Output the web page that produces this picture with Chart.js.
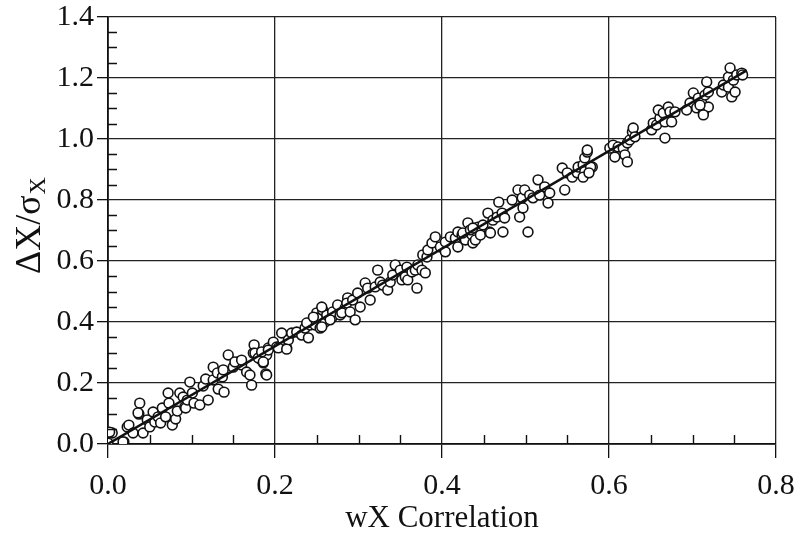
<!DOCTYPE html>
<html>
<head>
<meta charset="utf-8">
<script src="https://cdn.jsdelivr.net/npm/chart.js@4"></script>
<style>
  html, body { margin: 0; padding: 0; background: #fff; }
  #wrap { width: 794px; height: 538px; }
</style>
</head>
<body>
<div id="wrap"><canvas id="chart" width="794" height="538"></canvas></div>
<script>
// wX correlation (x) vs normalised shift dX/sigmaX (y)
const corrX = [
  0.000, 0.005, 0.019, 0.023, 0.025, 0.030, 0.038, 0.037, 0.042, 0.047,
  0.050, 0.054, 0.056, 0.060, 0.063, 0.065, 0.069, 0.072, 0.073, 0.077,
  0.081, 0.083, 0.086, 0.090, 0.092, 0.093, 0.095, 0.098, 0.101, 0.103,
  0.110, 0.114, 0.117, 0.120, 0.126, 0.126, 0.131, 0.132, 0.137, 0.139,
  0.144, 0.002, 0.018, 0.036,
  0.156, 0.150, 0.160, 0.166, 0.170, 0.172, 0.175, 0.174, 0.180, 0.184,
  0.186, 0.190, 0.189, 0.192, 0.198, 0.202, 0.208, 0.214, 0.216, 0.220,
  0.138, 0.152, 0.160, 0.176, 0.180, 0.184, 0.190, 0.186, 0.192, 0.204,
  0.214, 0.226, 0.232, 0.236, 0.240, 0.242, 0.248, 0.250, 0.251, 0.254,
  0.257, 0.260, 0.262, 0.268, 0.269, 0.275, 0.278, 0.284, 0.287,
  0.238, 0.246, 0.256, 0.256, 0.266, 0.280, 0.286, 0.290, 0.296, 0.293,
  0.299, 0.302, 0.308, 0.311, 0.314, 0.320, 0.323, 0.326, 0.329, 0.335,
  0.338, 0.341, 0.344, 0.350, 0.352, 0.358, 0.356, 0.359, 0.364, 0.368,
  0.370, 0.371, 0.376, 0.377, 0.380, 0.382, 0.383, 0.388, 0.392, 0.398,
  0.404, 0.404, 0.410, 0.416, 0.419, 0.419, 0.424, 0.428, 0.431, 0.436,
  0.437, 0.443,
  0.425, 0.434, 0.440, 0.437, 0.446, 0.449, 0.455, 0.457, 0.461, 0.466,
  0.468, 0.472, 0.473, 0.475, 0.484, 0.491, 0.493, 0.496, 0.497, 0.499,
  0.505, 0.509, 0.515, 0.517, 0.523, 0.527, 0.529, 0.547, 0.544, 0.550,
  0.556, 0.562, 0.563, 0.569, 0.571, 0.574, 0.575, 0.580, 0.458, 0.503,
  0.601, 0.605, 0.607, 0.611, 0.617, 0.619, 0.622, 0.622, 0.625, 0.628,
  0.629, 0.631, 0.574, 0.571, 0.569, 0.578, 0.576,
  0.651, 0.653, 0.657, 0.661, 0.659, 0.665, 0.667, 0.671, 0.673, 0.675,
  0.667, 0.679,
  0.697, 0.701, 0.705, 0.707, 0.711, 0.713, 0.715, 0.717, 0.719, 0.693,
  0.709, 0.713, 0.719, 0.735, 0.737, 0.743, 0.743, 0.745, 0.747, 0.749,
  0.751, 0.753, 0.759, 0.760
];
const deltaX = [
  0.003, 0.036, 0.007, 0.056, 0.062, 0.036, 0.134, 0.098, 0.036, 0.079,
  0.056, 0.105, 0.072, 0.089, 0.069, 0.118, 0.089, 0.167, 0.134, 0.062,
  0.082, 0.108, 0.167, 0.154, 0.121, 0.118, 0.144, 0.203, 0.167, 0.134,
  0.128, 0.190, 0.213, 0.144, 0.252, 0.210, 0.233, 0.180, 0.220, 0.170,
  0.292, 0.039, 0.007, 0.102,
  0.269, 0.252, 0.259, 0.236, 0.226, 0.193, 0.325, 0.298, 0.292, 0.275,
  0.266, 0.292, 0.230, 0.315, 0.334, 0.318, 0.364, 0.315, 0.341, 0.364,
  0.243, 0.269, 0.275, 0.298, 0.282, 0.302, 0.226, 0.269, 0.308, 0.315,
  0.311, 0.367, 0.357, 0.380, 0.348, 0.390, 0.390, 0.430, 0.413, 0.380,
  0.439, 0.400, 0.423, 0.413, 0.433, 0.456, 0.423, 0.446, 0.479,
  0.397, 0.416, 0.449, 0.384, 0.407, 0.430, 0.462, 0.433, 0.407, 0.472,
  0.495, 0.449, 0.528, 0.511, 0.472, 0.515, 0.570, 0.531, 0.521, 0.505,
  0.531, 0.554, 0.587, 0.570, 0.538, 0.580, 0.548, 0.538, 0.564, 0.570,
  0.511, 0.587, 0.570, 0.620, 0.561, 0.613, 0.636, 0.659, 0.679, 0.646,
  0.662, 0.630, 0.679, 0.675, 0.695, 0.646, 0.685, 0.669, 0.725, 0.685,
  0.659, 0.711,
  0.692, 0.702, 0.669, 0.708, 0.685, 0.718, 0.757, 0.695, 0.734, 0.744,
  0.793, 0.757, 0.695, 0.741, 0.800, 0.833, 0.744, 0.807, 0.774, 0.833,
  0.816, 0.807, 0.866, 0.816, 0.843, 0.790, 0.823, 0.833, 0.905, 0.889,
  0.875, 0.889, 0.908, 0.915, 0.938, 0.957, 0.892, 0.908, 0.692, 0.695,
  0.970, 0.980, 0.941, 0.974, 0.970, 0.948, 0.925, 0.987, 0.997, 1.023,
  1.036, 1.007, 0.964, 0.893, 0.875, 0.908, 0.889,
  1.030, 1.052, 1.046, 1.069, 1.095, 1.085, 1.056, 1.105, 1.089, 1.056,
  1.003, 1.089,
  1.118, 1.151, 1.102, 1.134, 1.118, 1.085, 1.144, 1.187, 1.105, 1.095,
  1.111, 1.079, 1.154, 1.154, 1.177, 1.203, 1.170, 1.233, 1.138, 1.193,
  1.154, 1.210, 1.216, 1.210
];
// fitted straight line
const fitX = [0.0, 0.765];
const fitY = [0.0, 1.225];

const xTicks = [0, 0.2, 0.4, 0.6, 0.8];
const yTicks = [0, 0.2, 0.4, 0.6, 0.8, 1.0, 1.2, 1.4];

const serif = "'Liberation Serif', 'Times New Roman', serif";
const ink = "#111";

const points = corrX.map((x, i) => ({ x: x, y: deltaX[i] }));
const fitLine = fitX.map((x, i) => ({ x: x, y: fitY[i] }));

// small inward minor ticks + rotated y title with subscript
const extras = {
  id: "extras",
  afterDraw(chart) {
    const ctx = chart.ctx;
    const xs = chart.scales.x, ys = chart.scales.y;
    const a = chart.chartArea;
    ctx.save();
    ctx.strokeStyle = ink;
    ctx.lineWidth = 1.4;
    ctx.beginPath();
    for (let v = 0.05; v < 0.8; v += 0.05) {
      if (Math.abs(v / 0.2 - Math.round(v / 0.2)) < 1e-6) continue;
      const px = Math.round(xs.getPixelForValue(v)) + 0.5;
      ctx.moveTo(px, a.bottom);
      ctx.lineTo(px, a.bottom - 9);
    }
    for (let v = 0.05; v < 1.4; v += 0.05) {
      if (Math.abs(v / 0.2 - Math.round(v / 0.2)) < 1e-6) continue;
      const py = Math.round(ys.getPixelForValue(v)) + 0.5;
      ctx.moveTo(a.left, py);
      ctx.lineTo(a.left + 9, py);
    }
    ctx.stroke();

    // y title: ΔX/σ with subscript X
    ctx.translate(31, 226);
    ctx.rotate(-Math.PI / 2);
    ctx.fillStyle = ink;
    ctx.textBaseline = "middle";
    const main = "\u0394X/\u03c3";
    ctx.font = "36px " + serif;
    const wMain = ctx.measureText(main).width;
    ctx.font = "24px " + serif;
    const wSub = ctx.measureText("X").width;
    const x0 = -(wMain + wSub) / 2;
    ctx.textAlign = "left";
    ctx.font = "36px " + serif;
    ctx.fillText(main, x0, 0);
    ctx.font = "24px " + serif;
    ctx.fillText("X", x0 + wMain + 1, 8);
    ctx.restore();
  }
};

new Chart(document.getElementById("chart"), {
  type: "scatter",
  data: {
    datasets: [
      {
        type: "line",
        data: fitLine,
        borderColor: ink,
        borderWidth: 2.4,
        pointRadius: 0,
        fill: false
      },
      {
        data: points,
        pointRadius: 4.9,
        pointBorderWidth: 1.6,
        pointBorderColor: ink,
        pointBackgroundColor: "#fff"
      }
    ]
  },
  options: {
    responsive: false,
    animation: false,
    layout: { padding: { top: 17, right: 18, left: 0, bottom: 0 } },
    plugins: { legend: { display: false }, tooltip: { enabled: false } },
    scales: {
      x: {
        type: "linear",
        min: 0,
        max: 0.8,
        afterBuildTicks(scale) { scale.ticks = xTicks.map(v => ({ value: v })); },
        afterFit(scale) {
          scale.height = 94;
          scale.paddingRight = 0;
          scale.paddingLeft = 0;
        },
        ticks: {
          callback: v => v.toFixed(1),
          font: { family: serif, size: 30 },
          color: ink,
          padding: 10,
          maxRotation: 0
        },
        grid: { color: "#222", lineWidth: 1.3, tickLength: 14, tickColor: ink },
        border: { display: true, color: ink, width: 1.8 },
        title: {
          display: true,
          text: "wX Correlation",
          font: { family: serif, size: 31 },
          color: ink,
          padding: { top: 0, bottom: 1 }
        }
      },
      y: {
        type: "linear",
        min: 0,
        max: 1.4,
        afterBuildTicks(scale) { scale.ticks = yTicks.map(v => ({ value: v })); },
        afterFit(scale) {
          scale.width = 108;
          scale.paddingTop = 0;
          scale.paddingBottom = 0;
        },
        ticks: {
          callback: v => v.toFixed(1),
          font: { family: serif, size: 30 },
          color: ink,
          padding: 3
        },
        grid: { color: "#222", lineWidth: 1.3, tickLength: 11, tickColor: ink },
        border: { display: true, color: ink, width: 1.8 }
      }
    }
  },
  plugins: [extras]
});
</script>
</body>
</html>
